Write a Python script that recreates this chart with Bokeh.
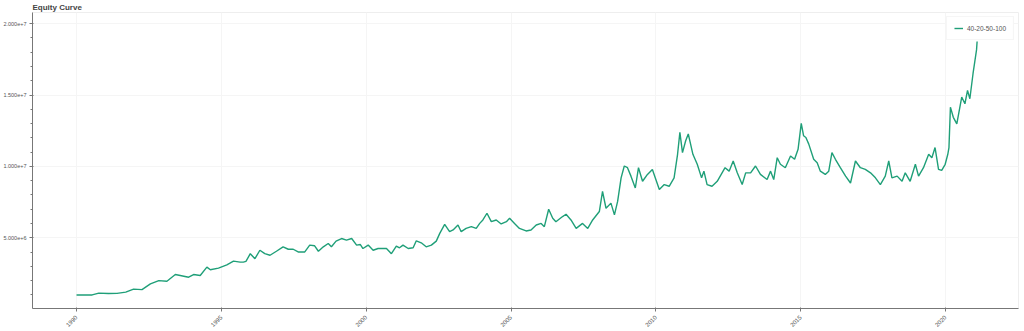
import math
import pandas as pd
from bokeh.plotting import figure
from bokeh.models import Range1d, DatetimeTickFormatter, FixedTicker, Legend, LegendItem
from bokeh.embed import file_html
from bokeh.resources import INLINE

series_name = "40-20-50-100"
tick_years = [1990, 1995, 2000, 2005, 2010, 2015, 2020]

# decimal years
years = [
    1990.00, 1990.54, 1990.77, 1991.10, 1991.40, 1991.70, 1991.97, 1992.26, 1992.55, 1992.84,
    1993.12, 1993.41, 1993.58, 1993.87, 1994.04, 1994.27, 1994.50, 1994.62, 1994.90, 1995.19,
    1995.42, 1995.65, 1995.76, 1995.85, 1996.00, 1996.16, 1996.33, 1996.50, 1996.68, 1996.90,
    1997.13, 1997.31, 1997.48, 1997.65, 1997.88, 1998.05, 1998.22, 1998.35, 1998.52, 1998.69,
    1998.80, 1998.96, 1999.15, 1999.32, 1999.50, 1999.67, 1999.80, 1999.89, 2000.07, 2000.24,
    2000.41, 2000.70, 2000.87, 2001.04, 2001.15, 2001.27, 2001.45, 2001.62, 2001.73, 2001.90,
    2002.07, 2002.25, 2002.42, 2002.54, 2002.71, 2002.88, 2003.00, 2003.17, 2003.28, 2003.45,
    2003.63, 2003.80, 2003.92, 2004.03, 2004.17, 2004.32, 2004.49, 2004.66, 2004.84, 2004.95,
    2005.12, 2005.29, 2005.52, 2005.69, 2005.87, 2006.04, 2006.15, 2006.30, 2006.44, 2006.55,
    2006.78, 2006.90, 2007.07, 2007.25, 2007.47, 2007.65, 2007.82, 2008.05, 2008.16, 2008.28,
    2008.45, 2008.57, 2008.68, 2008.80, 2008.91, 2009.02, 2009.14, 2009.29, 2009.40, 2009.54,
    2009.71, 2009.88, 2010.12, 2010.29, 2010.46, 2010.63, 2010.75, 2010.83, 2010.92, 2011.03,
    2011.12, 2011.20, 2011.28, 2011.43, 2011.58, 2011.66, 2011.77, 2011.94, 2012.12, 2012.39,
    2012.53, 2012.67, 2012.81, 2012.98, 2013.10, 2013.27, 2013.44, 2013.61, 2013.84, 2013.96,
    2014.07, 2014.19, 2014.30, 2014.47, 2014.65, 2014.79, 2014.91, 2015.02, 2015.10, 2015.18,
    2015.28, 2015.45, 2015.57, 2015.68, 2015.85, 2015.97, 2016.08, 2016.20, 2016.37, 2016.55,
    2016.72, 2016.89, 2017.06, 2017.23, 2017.41, 2017.58, 2017.75, 2017.92, 2018.04, 2018.15,
    2018.33, 2018.50, 2018.61, 2018.78, 2018.96, 2019.07, 2019.24, 2019.42, 2019.53, 2019.64,
    2019.76, 2019.87, 2019.99, 2020.08, 2020.12, 2020.17, 2020.27, 2020.39, 2020.56, 2020.67,
    2020.76, 2020.84, 2020.95, 2021.01, 2021.07, 2021.09,
]

# equity in millions
equity_m = [
    1.00, 1.00, 1.13, 1.10, 1.11, 1.20, 1.41, 1.37, 1.77, 2.00,
    1.96, 2.43, 2.36, 2.24, 2.43, 2.36, 2.95, 2.76, 2.88, 3.11,
    3.37, 3.30, 3.30, 3.35, 3.89, 3.54, 4.13, 3.89, 3.78, 4.06,
    4.37, 4.20, 4.20, 4.01, 4.01, 4.49, 4.44, 4.06, 4.37, 4.60,
    4.37, 4.77, 4.95, 4.84, 4.95, 4.49, 4.53, 4.25, 4.49, 4.13,
    4.25, 4.25, 3.89, 4.42, 4.30, 4.49, 4.25, 4.30, 4.79, 4.65,
    4.37, 4.49, 4.77, 5.31, 5.94, 5.43, 5.55, 5.90, 5.43, 5.66,
    5.78, 5.66, 6.01, 6.25, 6.72, 6.13, 6.25, 5.97, 6.13, 6.37,
    6.01, 5.66, 5.48, 5.55, 5.90, 6.01, 5.78, 7.00, 6.37, 6.13,
    6.49, 6.65, 6.25, 5.66, 6.01, 5.66, 6.25, 6.84, 8.26, 7.07,
    7.43, 6.61, 7.55, 9.20, 10.03, 9.91, 9.32, 8.49, 9.91, 8.96,
    9.44, 9.79, 8.38, 8.73, 8.61, 9.20, 10.85, 12.38, 10.97, 11.80,
    12.27, 11.56, 10.85, 10.15, 9.20, 9.67, 8.73, 8.61, 8.96, 9.91,
    9.67, 10.38, 9.55, 8.73, 9.55, 9.55, 10.03, 9.44, 9.08, 9.67,
    9.08, 10.61, 10.15, 9.91, 10.73, 10.50, 11.20, 13.01, 12.15, 12.03,
    11.56, 10.50, 10.26, 9.67, 9.44, 9.67, 10.97, 10.50, 9.91, 9.32,
    8.84, 10.38, 9.91, 9.79, 9.55, 9.20, 8.73, 9.32, 10.38, 9.20,
    9.32, 8.96, 9.55, 8.96, 10.15, 9.32, 9.91, 10.85, 10.61, 11.32,
    9.79, 9.72, 10.15, 10.85, 11.32, 14.15, 13.44, 12.98, 14.86, 14.39,
    15.33, 14.74, 16.51, 17.34, 18.16, 18.75,
]

x_start_year = 1988.48
x_end_year = 2022.52
y_start = 0.05e6
y_end = 2.078e7


def to_dt(y):
    yr = int(math.floor(y))
    start = pd.Timestamp(year=yr, month=1, day=1)
    end = pd.Timestamp(year=yr + 1, month=1, day=1)
    return start + (end - start) * (y - yr)


def to_ms(y):
    return to_dt(y).value / 1e6


dates = [to_dt(y) for y in years]
values = [v * 1e6 for v in equity_m]

p = figure(
    width=1024, height=331,
    x_axis_type="datetime",
    title="Equity Curve",
    output_backend="svg",
    toolbar_location=None,
    x_range=Range1d(to_dt(x_start_year), to_dt(x_end_year)),
    y_range=Range1d(y_start, y_end),
    min_border_left=4, min_border_right=6, min_border_top=0, min_border_bottom=2,
)

r = p.line(dates, values, line_color="#1f9f78", line_width=1.4)

p.title.text_font = "Liberation Sans"
p.title.text_font_size = "8px"
p.title.text_color = "#444444"
p.title.text_font_style = "bold"
p.title.standoff = 1
p.title.offset = 0

p.xaxis.ticker = FixedTicker(ticks=[to_ms(y) for y in tick_years])
p.xaxis.formatter = DatetimeTickFormatter(years="%Y", months="%Y", days="%Y", hours="%Y")
p.xaxis.major_label_orientation = math.pi / 4

for ax in (p.xaxis[0], p.yaxis[0]):
    ax.major_label_text_font = "Liberation Sans"
    ax.major_label_text_font_size = "5.5px"
    ax.major_label_text_color = "#555555"
    ax.axis_line_color = "#777777"
    ax.major_tick_line_color = "#777777"
    ax.minor_tick_line_color = "#777777"
    ax.major_tick_out = 3
    ax.major_tick_in = 1
    ax.minor_tick_out = 2
    ax.minor_tick_in = 0
    ax.major_label_standoff = 3
p.xaxis.minor_tick_line_color = None
p.xaxis.major_label_text_font_size = "6px"
p.xaxis.major_label_standoff = 5

p.xgrid.grid_line_color = "#f5f5f5"
p.ygrid.grid_line_color = "#f5f5f5"
p.outline_line_color = "#eeeeee"

legend = Legend(items=[LegendItem(label=series_name, renderers=[r])], location="top_right")
legend.label_text_font = "Liberation Sans"
legend.label_text_font_size = "6.5px"
legend.label_text_color = "#555555"
legend.glyph_width = 9
legend.glyph_height = 8
legend.label_standoff = 4
legend.padding = 7
legend.margin = 4
legend.spacing = 0
legend.label_height = 8
legend.border_line_color = "#eeeeee"
p.add_layout(legend)

open("out.html", "w").write(file_html(p, INLINE))
